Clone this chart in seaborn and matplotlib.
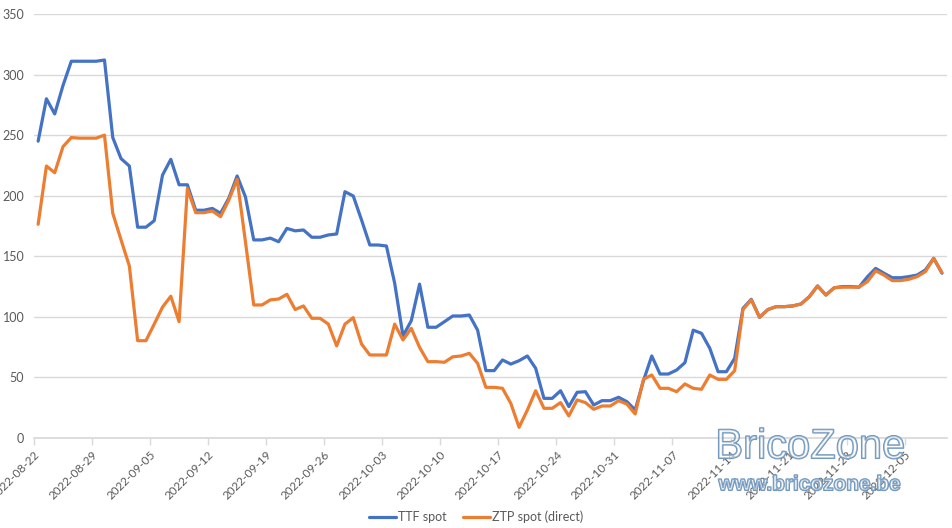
import pandas as pd
import seaborn as sns
import matplotlib.pyplot as plt
import matplotlib.patheffects as pe

# daily spot prices, 2022-08-22 .. 2022-12-09
start_date = "2022-08-22"
ttf_spot = [245, 280, 267.5, 291, 311, 311, 311, 311, 312, 248,
            230.6, 224.5, 174, 174, 179.4, 217, 230, 209, 209, 188,
            188, 189.5, 185.5, 198, 216.3, 199, 163.5, 163.5, 165, 162,
            173, 171, 171.7, 165.7, 165.7, 167.6, 168.4, 203.3, 199.8, 180,
            159.3, 159.3, 158.5, 127.7, 84.2, 96.8, 127, 91.4, 91.4, 96,
            100.7, 100.7, 101.5, 89, 55.6, 55.6, 64.4, 61, 63.8, 67.7,
            57.5, 32.7, 32.7, 39, 25.9, 37.7, 38.2, 27.2, 30.8, 30.8,
            33.6, 30, 23.1, 47.3, 67.7, 52.8, 52.8, 56.1, 62.2, 89,
            86.4, 74, 54.7, 54.7, 65.8, 107, 114.5, 99.6, 106, 108.4,
            108.4, 109, 110.6, 116.6, 125.5, 118, 124, 125, 125, 124.5,
            133, 140, 136, 132.3, 132.3, 133.2, 134.5, 138.7, 148.3, 136]
ztp_spot = [176.4, 224.5, 219, 240.5, 248, 247.5, 247.5, 247.5, 250, 185.5,
            163.5, 142, 80.3, 80.3, 94, 108, 117, 96, 206, 186,
            186, 187.4, 182.7, 196.5, 213.5, 162, 109.8, 109.8, 114, 114.7,
            118.6, 106, 109, 98.8, 98.8, 94, 76, 94, 99.3, 77.6,
            68.5, 68.5, 68.5, 94, 80.9, 90.5, 74.8, 63, 63, 62.5,
            67, 67.7, 69.9, 61.6, 41.8, 41.8, 41, 28.6, 8.8, 23.1,
            39, 24.5, 24.5, 29.2, 18.2, 31.4, 29.2, 23.7, 26.4, 26.4,
            30.8, 28, 19.8, 48.4, 52, 41, 41, 38.2, 44.6, 41,
            40.2, 52, 48.4, 48.4, 55.6, 106, 114, 99.6, 106, 108.4,
            108.4, 109, 110.6, 116.6, 125.5, 118, 124, 124.5, 124.5, 124.5,
            129, 138, 134.5, 129.9, 129.9, 131, 133.2, 137.3, 148.3, 136.5]
series_names = ["TTF spot", "ZTP spot (direct)"]

dates = pd.date_range(start_date, periods=len(ttf_spot), freq="D")
df = pd.DataFrame({"date": dates, series_names[0]: ttf_spot, series_names[1]: ztp_spot})
long_df = df.melt(id_vars="date", var_name="series", value_name="price")
# excel puts points in the middle of each day
long_df["date"] = long_df["date"] + pd.Timedelta(hours=12)

sns.set_theme(style="white")
plt.rcParams["font.family"] = ["Lato", "DejaVu Sans"]

fig = plt.figure(figsize=(9.52, 5.28), dpi=100)
ax = fig.add_axes([0.0357, 0.1705, 0.959, 0.803])

sns.lineplot(data=long_df, x="date", y="price", hue="series",
             palette=["#4472C4", "#ED7D31"], linewidth=2.3, ax=ax, legend=True)

ax.set_ylim(0, 350)
ax.set_yticks(range(0, 351, 50))
ax.set_xlim(pd.Timestamp(start_date), pd.Timestamp(start_date) + pd.Timedelta(days=110.1))
ticks = pd.date_range(start_date, "2022-12-05", freq="7D")
ax.set_xticks(ticks)
ax.set_xticklabels([t.strftime("%Y-%m-%d") for t in ticks], rotation=45, ha="right",
                   rotation_mode="anchor")
ax.grid(axis="y", color="#D9D9D9", linewidth=1)
ax.set_xlabel("")
ax.set_ylabel("")
for s in ["top", "right", "left"]:
    ax.spines[s].set_visible(False)
ax.spines["bottom"].set_color("#D9D9D9")
ax.tick_params(axis="x", colors="#595959", labelsize=8.5, length=5, width=1,
               direction="out", bottom=True, pad=3)
ax.tick_params(axis="x", color="#D9D9D9")
ax.tick_params(axis="y", colors="#595959", labelsize=9, length=0, pad=7)

handles, labels = ax.get_legend_handles_labels()
ax.legend_.remove()
fig.legend(handles, labels, loc="lower center", bbox_to_anchor=(0.5, -0.012), ncol=2,
           frameon=False, fontsize=9, handlelength=2.2, columnspacing=1.3,
           labelcolor="#595959", handletextpad=0.15)

# watermark
fig.text(0.851, 0.153, "BricoZone", fontsize=30, family="Liberation Sans",
         ha="center", va="center", color=(1, 1, 1, 0.3),
         path_effects=[pe.withStroke(linewidth=1.2, foreground="#6B93BA")])
fig.text(0.851, 0.082, "www.bricozone.be", fontsize=15, weight="bold",
         family="Liberation Sans", ha="center", va="center", color=(1, 1, 1, 0.3),
         path_effects=[pe.withStroke(linewidth=1.2, foreground="#6B93BA")])

fig.savefig("out.png", dpi=100)
